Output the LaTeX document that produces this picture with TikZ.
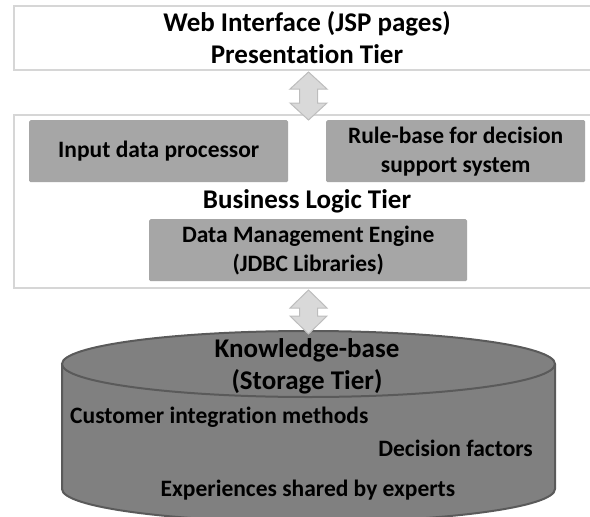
\documentclass[tikz,border=0pt]{standalone}
\usepackage{fontspec}
\setmainfont{Carlito}[Ligatures=NoCommon]
\definecolor{tierline}{HTML}{D6D6D6}
\definecolor{blockgray}{HTML}{A6A6A6}
\definecolor{arrowfill}{HTML}{D9D9D9}
\definecolor{arrowline}{HTML}{BDBDBD}
\definecolor{drumfill}{HTML}{808080}
\definecolor{drumline}{HTML}{5A5A5A}
\begin{document}
\begin{tikzpicture}[x=1pt,y=-1pt,
  tierbox/.style={draw=tierline, line width=2pt, fill=white, inner sep=0pt, anchor=north west},
  blockbox/.style={fill=blockgray, rounded corners=1.5pt, inner sep=0pt, anchor=north west},
  bigtext/.style={font=\bfseries\fontsize{27}{32}\selectfont, align=center, inner sep=0pt},
  smalltext/.style={font=\bfseries\fontsize{23.5}{29}\selectfont, align=center, inner sep=0pt},
  linkarrow/.style={fill=arrowfill, draw=arrowline, line width=1pt, line join=miter}
]
\useasboundingbox (0,0) rectangle (590,517);

% presentation tier
\node[tierbox, minimum width=600pt, minimum height=64pt] (web) at (13,5) {};
\node[bigtext] (webtxt) at (307,38) {Web Interface (JSP pages)\\Presentation Tier};

% business logic tier
\node[tierbox, minimum width=600pt, minimum height=173pt] (logic) at (13,114) {};
\node[blockbox, minimum width=259pt, minimum height=62pt] (input) at (29,120) {};
\node[smalltext] at (input.center) {Input data processor};
\node[blockbox, minimum width=259pt, minimum height=62pt] (rules) at (326,120) {};
\node[smalltext] at (rules.center) {Rule-base for decision\\support system};
\node[bigtext] (logictxt) at (307,201) {Business Logic Tier};
\node[blockbox, minimum width=318pt, minimum height=62pt] (dme) at (149,219) {};
\node[smalltext] at (dme.center) {Data Management Engine\\(JDBC Libraries)};

% storage tier drum
\coordinate (drumtop) at (308.5,331);
\fill[drumfill] (62,364) -- (62,489) arc[start angle=180, end angle=360, x radius=246.5, y radius=-33]
  -- (555,364) arc[start angle=0, end angle=180, x radius=246.5, y radius=33] -- cycle;
\draw[drumline, line width=2pt] (62,364) -- (62,489) arc[start angle=180, end angle=360, x radius=246.5, y radius=-33]
  -- (555,364);
\draw[drumline, line width=2pt, fill=drumfill] (308.5,364) ellipse[x radius=246.5, y radius=33];
\node[bigtext] (kb) at (307,366) {Knowledge-base\\(Storage Tier)};
\node[smalltext, anchor=west] (cim) at (70,417) {Customer integration methods};
\node[smalltext, anchor=east] (df) at (533,448) {Decision factors};
\node[smalltext] (exp) at (308,490) {Experiences shared by experts};

% two-way links between the tiers
\draw[linkarrow] (web.south -| drumtop) ++(0,1)
  -- ++(18.5,17) -- ++(-9.5,0) -- ++(0,14) -- ++(9.5,0) -- ++(-18.5,17)
  -- ++(-18.5,-17) -- ++(9.5,0) -- ++(0,-14) -- ++(-9.5,0) -- cycle;
\draw[linkarrow] (logic.south -| drumtop) ++(0,1)
  -- ++(18.5,18) -- ++(-9.5,0) -- ++(0,8) -- ++(9.5,0) -- ++(-18.5,18)
  -- ++(-18.5,-18) -- ++(9.5,0) -- ++(0,-8) -- ++(-9.5,0) -- cycle;
\end{tikzpicture}
\end{document}
